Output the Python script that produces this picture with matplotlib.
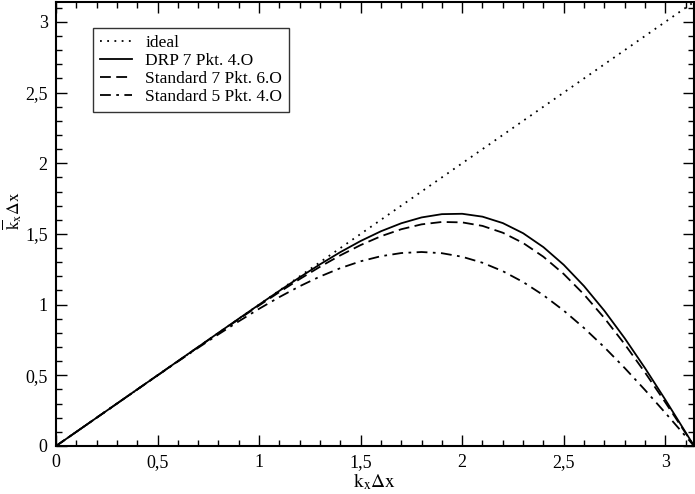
import numpy as np
import matplotlib.pyplot as plt
from matplotlib.ticker import MultipleLocator, FuncFormatter

plt.rcParams['font.family'] = ['Liberation Serif', 'DejaVu Serif']
plt.rcParams['mathtext.fontset'] = 'stix'

# ---------- Data ----------
kx = [0.0, 0.1, 0.2, 0.3, 0.4, 0.5, 0.6, 0.7, 0.8, 0.9, 1.0,
      1.1, 1.2, 1.3, 1.4, 1.5, 1.6, 1.7, 1.8, 1.9, 2.0,
      2.1, 2.2, 2.3, 2.4, 2.5, 2.6, 2.7, 2.8, 2.9, 3.0, 3.1, 3.1416]

ideal_x = [0.0, 3.1416]
ideal_y = [0.0, 3.1416]

drp7 = [0.0, 0.1000, 0.2000, 0.3000, 0.4001, 0.5002, 0.6004, 0.7006, 0.8009, 0.9008, 1.0000,
        1.0979, 1.1933, 1.2850, 1.3713, 1.4501, 1.5190, 1.5755, 1.6168, 1.6400, 1.6426,
        1.6222, 1.5768, 1.5051, 1.4066, 1.2815, 1.1310, 0.9570, 0.7626, 0.5514, 0.3279, 0.0970, 0.0]

std7 = [0.0, 0.1000, 0.2000, 0.3000, 0.4000, 0.4999, 0.5998, 0.6995, 0.7987, 0.8971, 0.9941,
        1.0890, 1.1807, 1.2678, 1.3486, 1.4213, 1.4837, 1.5333, 1.5678, 1.5847, 1.5817,
        1.5569, 1.5086, 1.4360, 1.3385, 1.2167, 1.0716, 0.9052, 0.7204, 0.5204, 0.3092, 0.0915, 0.0]

std5 = [0.0, 0.1000, 0.2000, 0.2999, 0.3997, 0.4990, 0.5975, 0.6947, 0.7899, 0.8821, 0.9704,
        1.0535, 1.1301, 1.1988, 1.2581, 1.3065, 1.3425, 1.3648, 1.3722, 1.3637, 1.3385,
        1.2962, 1.2366, 1.1599, 1.0666, 0.9578, 0.8346, 0.6986, 0.5519, 0.3964, 0.2347, 0.0693, 0.0]

# ---------- Plot ----------
fig = plt.figure(figsize=(6.95, 4.94), dpi=100)
ax = fig.add_axes([0.0806, 0.0972, 0.918, 0.899])

lw = 1.3
ax.plot(ideal_x, ideal_y, color='black', lw=lw, linestyle=(0, (1, 3)), label='ideal')
ax.plot(kx, drp7, color='black', lw=lw, linestyle='-', label='DRP 7 Pkt. 4.O')
ax.plot(kx, std7, color='black', lw=lw, linestyle=(0, (6, 3)), label='Standard 7 Pkt. 6.O')
ax.plot(kx, std5, color='black', lw=lw, linestyle=(0, (6, 3, 1.5, 3)), label='Standard 5 Pkt. 4.O')

ax.set_xlim(0, 3.1416)
ax.set_ylim(0, 3.1416)

ax.xaxis.set_major_locator(MultipleLocator(0.5))
ax.xaxis.set_minor_locator(MultipleLocator(0.1))
ax.yaxis.set_major_locator(MultipleLocator(0.5))
ax.yaxis.set_minor_locator(MultipleLocator(0.1))

comma = FuncFormatter(lambda v, p: ('%g' % v).replace('.', ','))
ax.xaxis.set_major_formatter(comma)
ax.yaxis.set_major_formatter(comma)

ax.tick_params(which='both', direction='in', top=True, right=True, labelsize=13, width=1)
ax.tick_params(which='major', length=8, pad=6)
ax.tick_params(which='minor', length=4)
for s in ax.spines.values():
    s.set_linewidth(1.5)

ax.set_xlabel(r'$\mathrm{k_x\Delta x}$', fontsize=14, labelpad=0)
ax.set_ylabel(r'$\overline{\mathrm{k}}_\mathrm{x}\mathrm{\Delta x}$', fontsize=12.5)
ax.yaxis.set_label_coords(-0.05, 0.53)

leg = ax.legend(loc='upper left', bbox_to_anchor=(0.045, 0.96), fontsize=12.5,
                frameon=True, fancybox=False, edgecolor='black',
                handlelength=1.8, handletextpad=0.8, labelspacing=0.1,
                borderpad=0.4)
leg.get_frame().set_linewidth(1.0)

plt.savefig('out.png', dpi=100)
